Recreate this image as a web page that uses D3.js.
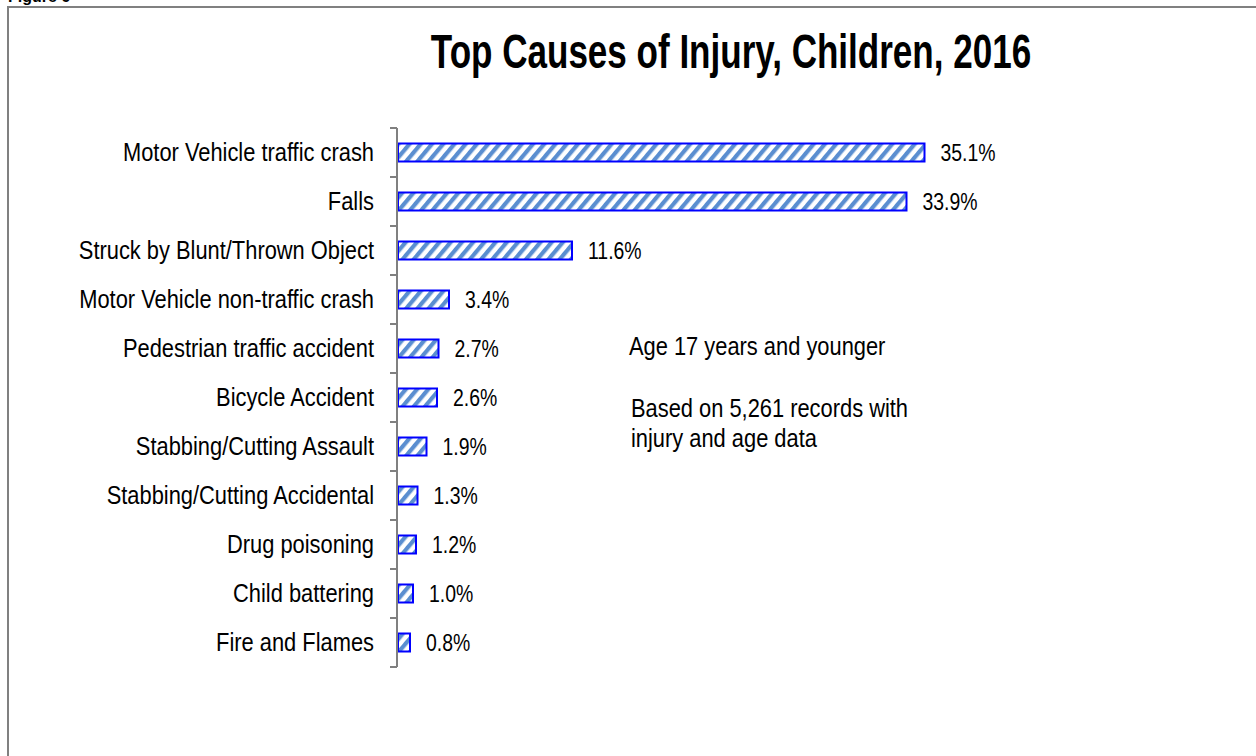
<!DOCTYPE html>
<html>
<head>
<meta charset="utf-8">
<script src="https://cdn.jsdelivr.net/npm/d3@7"></script>
<style>
  body { margin: 0; background: #fff; }
  text { font-family: "Liberation Sans", Arial, sans-serif; fill: #000; }
</style>
</head>
<body>
<svg id="chart" width="1256" height="756"></svg>
<script>
var svg = d3.select("#chart");
const width = +svg.attr("width");
const height = +svg.attr("height");

// chart data
var causes = [
  "Motor Vehicle traffic crash",
  "Falls",
  "Struck by Blunt/Thrown Object",
  "Motor Vehicle non-traffic crash",
  "Pedestrian traffic accident",
  "Bicycle Accident",
  "Stabbing/Cutting Assault",
  "Stabbing/Cutting Accidental",
  "Drug poisoning",
  "Child battering",
  "Fire and Flames"
];
var percents = [35.1, 33.9, 11.6, 3.4, 2.7, 2.6, 1.9, 1.3, 1.2, 1.0, 0.8];
var title = "Top Causes of Injury, Children, 2016";
var notes = ["Age 17 years and younger", "Based on 5,261 records with", "injury and age data"];

var data = causes.map((c, i) => ({ cause: c, pct: percents[i] }));

// plot area
const axisX = 397;
const plotTop = 128, plotBottom = 667;

var x = d3.scaleLinear().domain([0, 40]).range([axisX + 1, axisX + 1 + 600]);
var y = d3.scaleBand().domain(causes).range([plotTop, plotBottom]).padding(0);
const barH = 20;

// the original uses a narrow font; squeeze the text horizontally instead
var place = (sel, px, py, sx) => sel.attr("transform", (d, i) =>
  "translate(" + px(d, i) + "," + py(d, i) + ") scale(" + sx + ",1)");

// hatch pattern for the bars
var defs = svg.append("defs");
var pat = defs.append("pattern")
  .attr("id", "hatch")
  .attr("patternUnits", "userSpaceOnUse")
  .attr("width", 8.6)
  .attr("height", 8.6)
  .attr("patternTransform", "rotate(40)");
pat.append("rect").attr("width", 8.6).attr("height", 8.6).attr("fill", "#fff");
pat.append("rect").attr("x", 0).attr("y", 0).attr("width", 4.2).attr("height", 8.6).attr("fill", "#5a8ed0");

// outer frame (cut off on right and bottom)
svg.append("rect")
  .attr("x", 8).attr("y", 7)
  .attr("width", width + 20).attr("height", height + 20)
  .attr("fill", "none")
  .attr("stroke", "#808080")
  .attr("stroke-width", 2);

// figure caption, mostly above the page edge as in the original
svg.append("text")
  .attr("x", 8).attr("y", 2)
  .style("font-weight", "bold")
  .style("font-size", "16px")
  .text("Figure 6");

// title
place(svg.append("text")
  .attr("text-anchor", "middle")
  .style("font-weight", "bold")
  .style("font-size", "48px")
  .text(title), () => 731, () => 68, 0.73);

// bars
svg.selectAll("rect.bar")
  .data(data)
  .enter().append("rect")
  .attr("class", "bar")
  .attr("x", x(0))
  .attr("y", d => y(d.cause) + y.bandwidth() / 2 - barH / 2 + 1)
  .attr("width", d => x(d.pct) - x(0))
  .attr("height", barH - 2)
  .attr("fill", "url(#hatch)")
  .attr("stroke", "#0000ff")
  .attr("stroke-width", 2);

// value labels
place(svg.selectAll("text.value")
  .data(data)
  .enter().append("text")
  .attr("class", "value")
  .attr("dy", "0.35em")
  .style("font-size", "24px")
  .text(d => d.pct.toFixed(1) + "%"),
  d => x(d.pct) + 16, d => y(d.cause) + y.bandwidth() / 2, 0.81);

// category axis with ticks between categories
var axis = svg.append("g").attr("class", "yaxis");
axis.append("line")
  .attr("x1", axisX).attr("x2", axisX)
  .attr("y1", plotTop).attr("y2", plotBottom)
  .attr("stroke", "#808080").attr("stroke-width", 2);
var bounds = causes.map(c => y(c)).concat([y(causes[causes.length - 1]) + y.bandwidth()]);
axis.selectAll("line.tick")
  .data(bounds)
  .enter().append("line")
  .attr("class", "tick")
  .attr("x1", axisX - 7).attr("x2", axisX)
  .attr("y1", d => d).attr("y2", d => d)
  .attr("stroke", "#808080").attr("stroke-width", 2);
place(axis.selectAll("text")
  .data(causes)
  .enter().append("text")
  .attr("dy", "0.35em")
  .attr("text-anchor", "end")
  .style("font-size", "25px")
  .text(d => d),
  () => 374, d => y(d) + y.bandwidth() / 2, 0.875);

// notes
var noteY = [346, 408, 438];
var noteX = [629, 631, 631];
place(svg.selectAll("text.note")
  .data(notes)
  .enter().append("text")
  .attr("class", "note")
  .attr("dy", "0.35em")
  .style("font-size", "25px")
  .text(d => d),
  (d, i) => noteX[i], (d, i) => noteY[i], 0.875);
</script>
</body>
</html>
